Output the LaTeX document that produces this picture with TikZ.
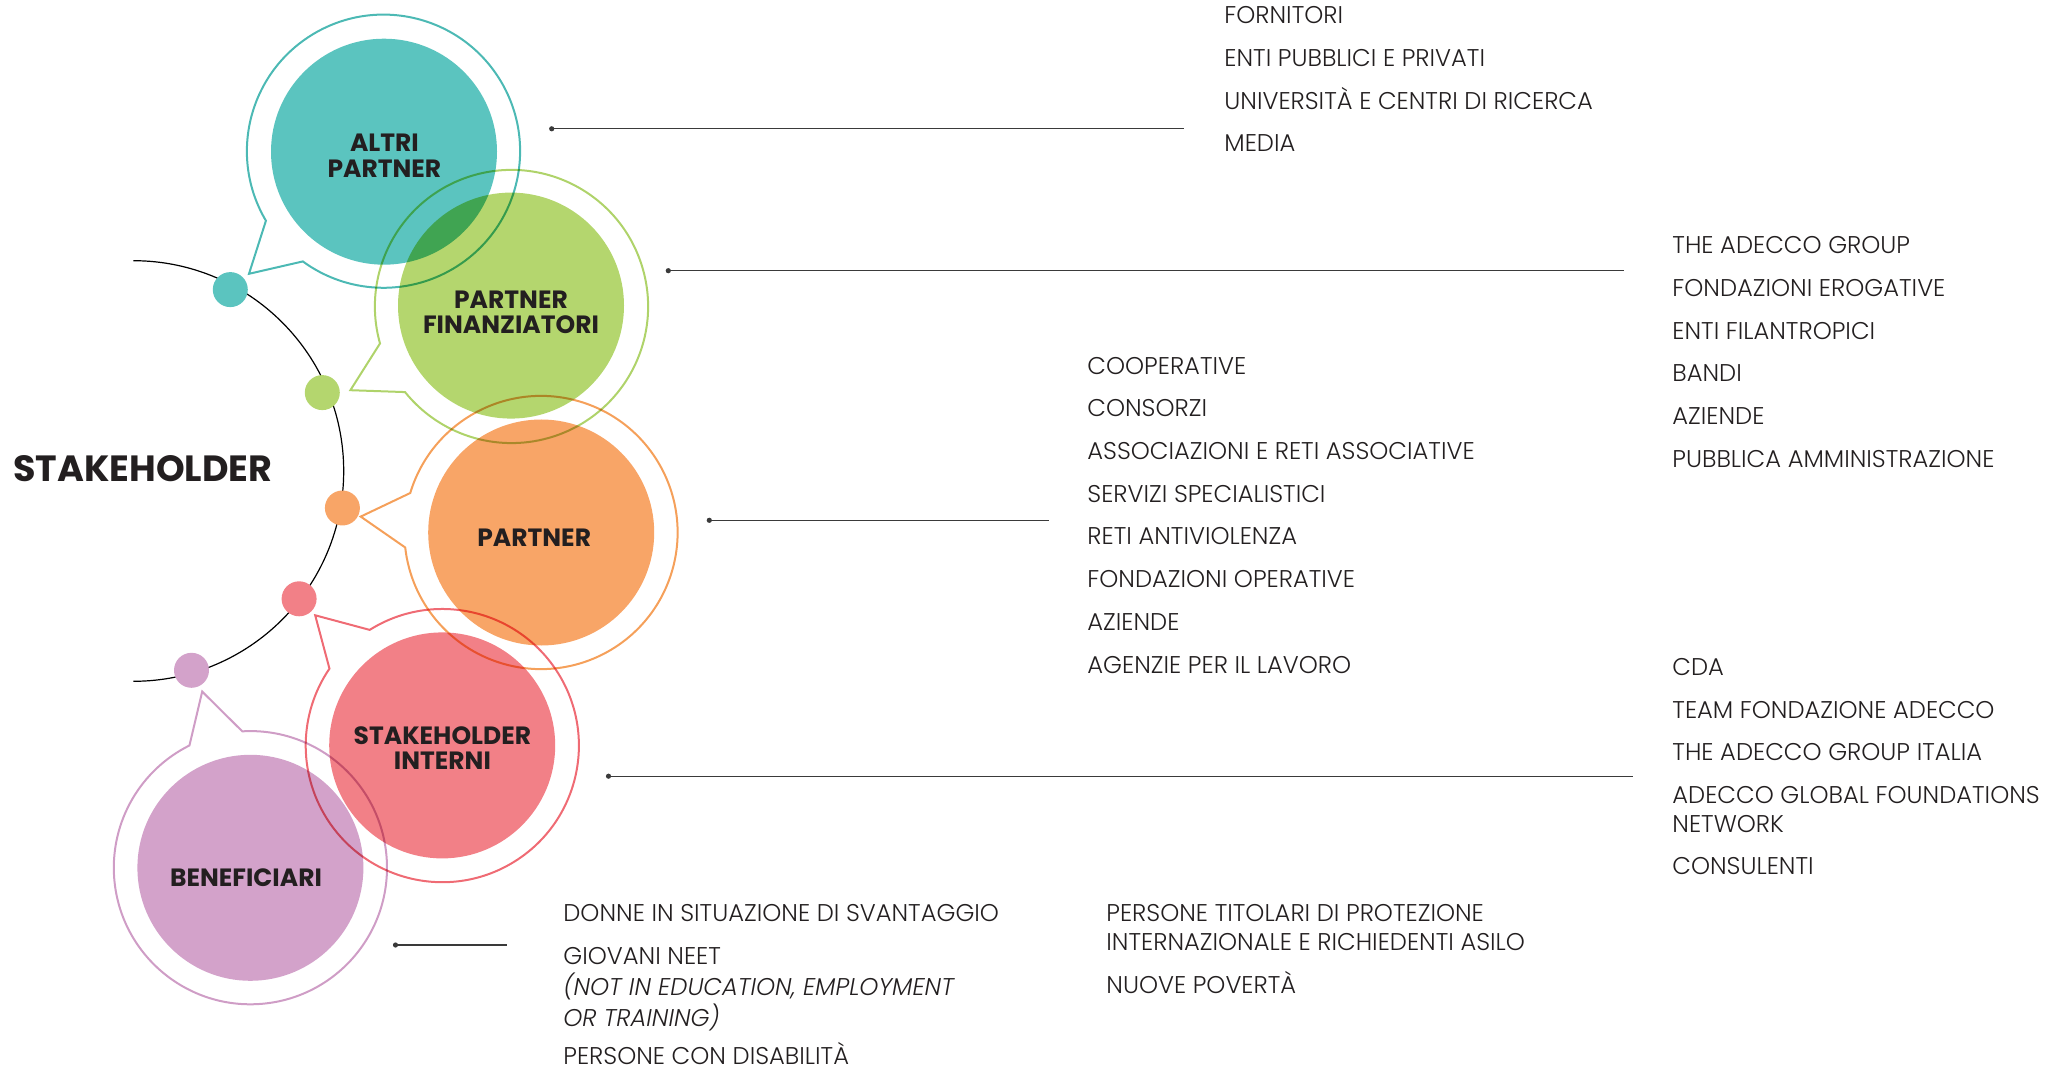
\documentclass[tikz,border=0pt]{standalone}
\usepackage{fontspec}
\setmainfont{Poppins Light}[BoldFont={Poppins Bold}, ItalicFont={Poppins Light Italic}]
\definecolor{ink}{HTML}{231F20}
\definecolor{linec}{HTML}{3A3A3A}
\definecolor{tealF}{HTML}{5BC4BF}
\definecolor{tealL}{HTML}{4CB9B4}
\definecolor{greenF}{HTML}{B4D66E}
\definecolor{greenL}{HTML}{AFD36A}
\definecolor{orangeF}{HTML}{F8A567}
\definecolor{orangeL}{HTML}{F5A05A}
\definecolor{redF}{HTML}{F28087}
\definecolor{redL}{HTML}{EF6B74}
\definecolor{purpleF}{HTML}{D3A2CA}
\definecolor{purpleL}{HTML}{CF9DC6}
\begin{document}
\begin{tikzpicture}[x=0.5pt,y=-0.5pt,
  blob/.style={circle, inner sep=0pt, minimum size=113pt},
  ring/.style={line width=1pt, line join=miter},
  lbl/.style={font=\bfseries\fontsize{12.5}{12.6}\selectfont, text=ink, align=center, inner sep=0pt},
  item/.style={font=\fontsize{12.1}{14.5}\selectfont, text=ink, anchor=base west, inner sep=0pt},
  conn/.style={draw=linec, line width=0.65pt},
  cdot/.style={circle, fill=linec, inner sep=0pt, minimum size=2.6pt},
  sdot/.style={circle, inner sep=0pt, minimum size=17.5pt}]
\useasboundingbox (0,0) rectangle (2062,1069);

% arc and dots
\draw[line width=0.6pt, black] (133.4,260.7) arc[start angle=-90, end angle=90, radius=210.3];
\node[sdot, fill=tealF] (d1) at (230.3,289.6) {};
\node[sdot, fill=greenF] (d2) at (322.3,392.6) {};
\node[sdot, fill=orangeF] (d3) at (342.4,508) {};
\node[sdot, fill=redF] (d4) at (299.1,598.8) {};
\node[sdot, fill=purpleF] (d5) at (191.5,670.3) {};

\begin{scope}[blend mode=multiply]
  \node[blob, fill=tealF] (cA) at (384,151.7) {};
  \node[blob, fill=greenF] (cF) at (511,305.6) {};
  \node[blob, fill=orangeF] (cP) at (541.2,532.5) {};
  \node[blob, fill=redF] (cI) at (442.2,745.4) {};
  \node[blob, fill=purpleF] (cB) at (250.4,867.8) {};
  \draw[ring, draw=tealL] (249,273.8) -- ([shift={(149.4:136.6)}]383.5,151.2) arc[start angle=149.4, end angle=486.2, radius=136.6] -- cycle;
  \draw[ring, draw=greenL] (350.4,390.2) -- ([shift={(164.3:136.6)}]511.5,306.5) arc[start angle=164.3, end angle=501.2, radius=136.6] -- cycle;
  \draw[ring, draw=orangeL] (360.7,516.6) -- ([shift={(196.8:136.6)}]541,532.5) arc[start angle=196.8, end angle=533.7, radius=136.6] -- cycle;
  \draw[ring, draw=redL] (315.2,615.3) -- ([shift={(237.9:136.6)}]442.3,745.6) arc[start angle=237.9, end angle=574.3, radius=136.6] -- cycle;
  \draw[ring, draw=purpleL] (202.2,691.6) -- ([shift={(266.6:136.6)}]250.4,867.7) arc[start angle=266.6, end angle=603.5, radius=136.6] -- cycle;
\end{scope}

% labels
\node[font=\bfseries\fontsize{18.25}{20}\selectfont, text=ink, anchor=base west, inner sep=0pt] (title) at (13,481.5) {STAKEHOLDER};
\node[lbl] (lA) at (384.4,155.7) {ALTRI\\PARTNER};
\node[lbl] (lF) at (511,312.5) {PARTNER\\FINANZIATORI};
\node[lbl] (lP) at (534.2,537.3) {PARTNER};
\node[lbl] (lI) at (442.4,747.8) {STAKEHOLDER\\INTERNI};
\node[lbl] (lB) at (246,877.2) {BENEFICIARI};

% connectors
\coordinate (aS) at (551.7,128.8); \coordinate (aE) at (1184,128.8);
\coordinate (fS) at (668.3,270.7); \coordinate (fE) at (1624,270.7);
\coordinate (pS) at (709.3,520.3); \coordinate (pE) at (1049.3,520.3);
\coordinate (iS) at (608.5,776.2); \coordinate (iE) at (1633,776.2);
\coordinate (bS) at (395.5,945); \coordinate (bE) at (506.7,945);
\foreach \s/\e in {aS/aE,fS/fE,pS/pE,iS/iE,bS/bE}{
  \draw[conn] (\s) -- (\e);
  \node[cdot] at (\s) {};
}

% altri partner list
\node[item] (a1) at (1224,23.9) {FORNITORI};
\node[item] (a2) at (1224,66.6) {ENTI PUBBLICI E PRIVATI};
\node[item] (a3) at (1224,109.3) {UNIVERSITÀ E CENTRI DI RICERCA};
\node[item] (a4) at (1224,152.0) {MEDIA};

% partner finanziatori list
\node[item] (f1) at (1672,253.7) {THE ADECCO GROUP};
\node[item] (f2) at (1672,296.4) {FONDAZIONI EROGATIVE};
\node[item] (f3) at (1672,339.1) {ENTI FILANTROPICI};
\node[item] (f4) at (1672,381.8) {BANDI};
\node[item] (f5) at (1672,424.5) {AZIENDE};
\node[item] (f6) at (1672,467.2) {PUBBLICA AMMINISTRAZIONE};

% partner list
\node[item] (p1) at (1087,374.4) {COOPERATIVE};
\node[item] (p2) at (1087,417.0) {CONSORZI};
\node[item] (p3) at (1087,459.7) {ASSOCIAZIONI E RETI ASSOCIATIVE};
\node[item] (p4) at (1087,502.4) {SERVIZI SPECIALISTICI};
\node[item] (p5) at (1087,545.0) {RETI ANTIVIOLENZA};
\node[item] (p6) at (1087,587.7) {FONDAZIONI OPERATIVE};
\node[item] (p7) at (1087,630.4) {AZIENDE};
\node[item] (p8) at (1087,673.0) {AGENZIE PER IL LAVORO};

% stakeholder interni list
\node[item] (i1) at (1672,675.8) {CDA};
\node[item] (i2) at (1672,718.0) {TEAM FONDAZIONE ADECCO};
\node[item] (i3) at (1672,760.8) {THE ADECCO GROUP ITALIA};
\node[item] (i4) at (1672,803.0) {\begin{tabular}[t]{@{}l@{}}ADECCO GLOBAL FOUNDATIONS\\NETWORK\end{tabular}};
\node[item] (i5) at (1672,874.2) {CONSULENTI};

% beneficiari list
\node[item] (b1) at (563,921.5) {DONNE IN SITUAZIONE DI SVANTAGGIO};
\node[item] (b2) at (563,964.2) {\begin{tabular}[t]{@{}l@{}}GIOVANI NEET\\{\itshape (NOT IN EDUCATION, EMPLOYMENT}\\{\itshape OR TRAINING)}\end{tabular}};
\node[item] (b3) at (563,1064.3) {PERSONE CON DISABILITÀ};
\node[item] (b4) at (1106,921.5) {\begin{tabular}[t]{@{}l@{}}PERSONE TITOLARI DI PROTEZIONE\\INTERNAZIONALE E RICHIEDENTI ASILO\end{tabular}};
\node[item] (b5) at (1106,993.5) {NUOVE POVERTÀ};
\end{tikzpicture}
\end{document}
